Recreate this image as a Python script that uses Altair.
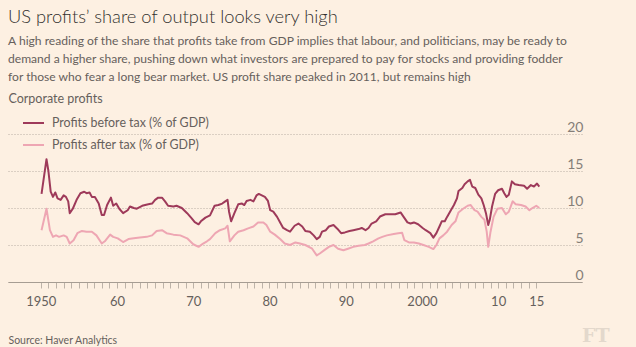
import altair as alt
import pandas as pd

# ---- data (year, % of GDP) ----
before_years = [1950.1, 1950.75, 1951.0, 1951.3, 1951.6, 1951.9, 1952.2, 1952.6, 1953.0, 1953.3,
                1953.6, 1953.8, 1954.2, 1954.7, 1955.2, 1955.7, 1956.0, 1956.4, 1956.7, 1957.1,
                1957.6, 1958.0, 1958.3, 1958.7, 1959.2, 1959.5, 1959.9, 1960.3, 1960.8, 1961.4,
                1961.7, 1962.2, 1962.6, 1963.3, 1963.7, 1964.1, 1964.6, 1965.0, 1965.4, 1965.9,
                1966.3, 1966.7, 1967.4, 1967.8, 1968.5, 1969.2, 1969.8, 1970.2, 1970.7, 1971.0,
                1971.6, 1972.2, 1972.8, 1973.3, 1973.8, 1974.2, 1974.5, 1974.7, 1974.97, 1975.4,
                1975.9, 1976.4, 1976.7, 1977.0, 1977.5, 1977.9, 1978.3, 1978.6, 1979.0, 1979.4,
                1979.8, 1980.1, 1980.5, 1981.0, 1981.4, 1981.8, 1982.3, 1982.7, 1983.3, 1983.8,
                1984.3, 1984.7, 1985.3, 1985.8, 1986.2, 1986.6, 1986.9, 1987.4, 1987.8, 1988.4,
                1988.9, 1989.4, 1989.9, 1990.5, 1991.0, 1991.7, 1992.1, 1992.6, 1993.0, 1993.4,
                1994.0, 1994.5, 1995.2, 1995.8, 1996.5, 1997.2, 1997.6, 1998.1, 1998.5, 1998.95,
                1999.5, 2000.1, 2000.5, 2001.1, 2001.5, 2001.9, 2002.3, 2002.6, 2003.0, 2003.3,
                2003.8, 2004.2, 2004.6, 2004.8, 2005.3, 2005.6, 2006.0, 2006.3, 2006.6, 2007.0,
                2007.4, 2007.8, 2008.1, 2008.4, 2008.7, 2008.9, 2009.2, 2009.6, 2010.0, 2010.5,
                2010.8, 2011.1, 2011.4, 2011.8, 2012.2, 2012.7, 2013.4, 2013.8, 2014.3, 2014.7,
                2015.1, 2015.4]
before_values = [11.9, 16.6, 15.0, 12.2, 11.5, 12.1, 11.3, 11.1, 11.7, 11.5,
                 10.9, 9.3, 9.9, 11.1, 12.0, 12.2, 12.0, 12.1, 11.5, 11.5,
                 10.6, 9.05, 9.05, 10.4, 11.4, 10.3, 10.6, 9.9, 9.3, 9.7,
                 10.2, 10.0, 9.9, 10.3, 10.4, 10.5, 10.6, 11.1, 11.4, 11.4,
                 10.9, 10.3, 10.2, 10.3, 10.0, 9.3, 8.6, 8.1, 7.8, 8.2,
                 8.7, 9.0, 10.3, 10.4, 10.6, 10.9, 11.1, 9.5, 8.2, 9.3,
                 10.5, 10.6, 10.4, 10.95, 11.1, 10.9, 11.7, 11.9, 11.7, 11.5,
                 10.95, 9.7, 9.5, 8.8, 8.05, 7.3, 7.0, 6.8, 7.6, 7.9,
                 7.5, 6.9, 6.8, 6.3, 5.8, 6.1, 6.8, 7.0, 7.5, 7.7,
                 7.2, 6.6, 6.7, 6.9, 7.0, 7.15, 7.3, 7.0, 7.3, 7.9,
                 8.2, 8.85, 9.15, 9.15, 9.15, 9.4, 8.8, 8.05, 7.9, 8.05,
                 7.8, 7.3, 7.0, 6.6, 6.0, 6.6, 7.5, 8.2, 8.2, 8.8,
                 9.7, 10.4, 11.3, 12.3, 12.7, 13.2, 13.6, 13.8, 12.9, 12.7,
                 11.8, 11.3, 10.4, 9.3, 7.7, 8.4, 10.2, 11.9, 12.4, 12.6,
                 12.0, 11.5, 11.8, 13.6, 13.2, 13.1, 13.0, 12.6, 13.1, 12.9,
                 13.3, 12.9]

after_years = [1950.1, 1950.75, 1951.2, 1951.6, 1952.0, 1952.4, 1953.0, 1953.4, 1953.8, 1954.3,
               1954.8, 1955.4, 1956.0, 1956.7, 1957.3, 1958.0, 1958.4, 1959.1, 1959.5, 1960.1,
               1960.8, 1961.5, 1962.2, 1963.0, 1963.9, 1964.6, 1965.2, 1965.9, 1966.5, 1967.4,
               1968.3, 1969.2, 1970.0, 1970.7, 1971.3, 1971.8, 1972.2, 1972.9, 1973.5, 1974.2,
               1974.5, 1974.8, 1975.4, 1975.9, 1976.6, 1977.2, 1977.9, 1978.5, 1979.2, 1979.6,
               1980.1, 1980.7, 1981.4, 1982.0, 1982.7, 1983.4, 1984.0, 1984.7, 1985.6, 1986.2,
               1986.6, 1987.2, 1987.8, 1988.4, 1989.0, 1989.7, 1990.3, 1991.0, 1991.7, 1992.5,
               1993.0, 1993.6, 1994.3, 1994.8, 1995.4, 1996.3, 1996.9, 1997.4, 1997.7, 1998.3,
               1998.95, 1999.6, 2000.2, 2000.9, 2001.5, 2001.9, 2002.3, 2002.8, 2003.3, 2003.9,
               2004.4, 2004.8, 2005.4, 2006.0, 2006.4, 2006.9, 2007.3, 2007.8, 2008.2, 2008.5,
               2008.7, 2009.0, 2009.4, 2009.9, 2010.5, 2011.0, 2011.4, 2011.9, 2012.3, 2013.0,
               2013.6, 2014.1, 2014.5, 2015.0, 2015.4]
after_values = [7.0, 9.9, 7.0, 6.1, 6.3, 6.1, 6.3, 6.1, 5.2, 5.65,
                6.6, 6.9, 6.8, 6.8, 6.3, 5.2, 5.5, 6.4, 6.1, 5.9,
                5.4, 5.8, 5.9, 6.0, 6.1, 6.3, 6.9, 7.0, 6.6, 6.4,
                6.3, 5.9, 5.1, 4.75, 5.2, 5.5, 5.8, 6.6, 7.0, 7.25,
                7.6, 5.5, 6.3, 6.8, 7.0, 7.25, 7.5, 8.05, 8.05, 7.7,
                6.8, 6.4, 5.8, 5.2, 5.0, 5.35, 5.2, 5.0, 4.5, 3.6,
                3.85, 4.3, 4.75, 5.0, 4.5, 4.3, 4.5, 4.75, 4.9, 5.0,
                5.2, 5.5, 5.9, 6.1, 6.3, 6.5, 6.6, 6.65, 5.65, 5.35,
                5.35, 5.2, 5.0, 4.75, 4.45, 5.0, 5.9, 6.3, 6.8, 7.7,
                8.2, 9.4, 9.9, 10.3, 10.4, 9.7, 9.5, 8.8, 8.4, 6.8,
                4.75, 6.8, 8.8, 9.9, 10.0, 9.15, 9.5, 10.9, 10.5, 10.4,
                10.2, 9.7, 10.0, 10.3, 10.0]

series_names = ["Profits before tax (% of GDP)", "Profits after tax (% of GDP)"]
series_colors = ["#9e3a5a", "#eea6b3"]
year_ticks = list(range(1950, 2016))
label_years = [1950, 1960, 1970, 1980, 1990, 2000, 2010, 2015]
y_ticks = [0, 5, 10, 15, 20]

title_text = "US profits\u2019 share of output looks very high"
subtitle_lines = [
    "A high reading of the share that profits take from GDP implies that labour, and politicians, may be ready to",
    "demand a higher share, pushing down what investors are prepared to pay for stocks and providing fodder",
    "for those who fear a long bear market. US profit share peaked in 2011, but remains high",
]
y_title = "Corporate profits"
source_text = "Source: Haver Analytics"
logo_text = ["FT"]

FONT = "Lato"
BG = "#fdf0e2"
GREY = "#66605c"

df = pd.concat([
    pd.DataFrame({"year": after_years, "value": after_values, "series": series_names[1], "ord": 0}),
    pd.DataFrame({"year": before_years, "value": before_values, "series": series_names[0], "ord": 1}),
])

label_list = ",".join(str(v) for v in label_years)
label_expr = (
    f"indexof([{label_list}], datum.value) >= 0 ? "
    "((datum.value == 1950 || datum.value == 2000) ? toString(datum.value) : slice(toString(datum.value), 2)) : ''"
)

lines = alt.Chart(df).mark_line(strokeWidth=2, strokeJoin="round").encode(
    x=alt.X(
        "year:Q",
        scale=alt.Scale(domain=[1945.7, 2021.0], nice=False, zero=False),
        axis=alt.Axis(
            values=year_ticks, labelExpr=label_expr, grid=False,
            tickSize=6, tickColor="#bdb3a8", tickWidth=1,
            domainColor="#a69d93", domainWidth=1,
            labelFont=FONT, labelFontSize=13, labelColor=GREY, labelPadding=7,
            labelFlush=False, labelOverlap=False,
            title=source_text, titleX=0, titleY=61, titleAlign="left", titleAnchor="start",
            titleBaseline="alphabetic", titleFont=FONT, titleFontSize=10.5,
            titleFontWeight="normal", titleColor=GREY,
        ),
    ),
    y=alt.Y(
        "value:Q",
        scale=alt.Scale(domain=[0, 20], nice=False),
        axis=alt.Axis(
            orient="right", values=y_ticks, ticks=False, domain=False,
            grid=True, gridDash=[1, 2], gridColor="#b8aea4", gridWidth=1,
            labelAlign="right", labelPadding=1, labelBaseline="alphabetic", labelOffset=-2.5,
            labelFont=FONT, labelFontSize=14, labelColor="#857e78",
            title=y_title, titleAngle=0, titleX=-574, titleY=-31.3, titleAlign="left",
            titleBaseline="alphabetic", titleFont=FONT, titleFontSize=12.5,
            titleFontWeight="normal", titleColor=GREY,
        ),
    ),
    color=alt.Color(
        "series:N",
        scale=alt.Scale(domain=series_names, range=series_colors),
        legend=alt.Legend(
            orient="none", legendX=14, legendY=-22.5, title=None, padding=0,
            symbolType="stroke", symbolSize=441, symbolStrokeWidth=2,
            labelFont=FONT, labelFontSize=12.4, labelColor=GREY, labelOffset=7,
            labelLimit=0, rowPadding=4,
        ),
    ),
    order=alt.Order("ord:Q"),
)

logo = alt.Chart(pd.DataFrame({"t": logo_text})).mark_text(
    font="DejaVu Serif", fontWeight="bold", fontSize=19, color="#e3d8cc",
    align="left", baseline="alphabetic",
).encode(text="t:N", x=alt.value(574), y=alt.value(208))

chart = alt.layer(lines, logo).properties(
    width=574, height=148,
    background=BG,
    padding={"left": 8, "top": 134, "right": 54, "bottom": 65},
    autosize=alt.AutoSizeParams(type="none"),
    title=alt.TitleParams(
        text=title_text, subtitle=subtitle_lines, anchor="start", frame="group",
        font=FONT, fontSize=18.3, fontWeight=300, color="#33302e",
        subtitleFont=FONT, subtitleFontSize=12.1, subtitleColor=GREY,
        subtitleLineHeight=18, subtitlePadding=7, offset=9,
    ),
).configure_view(stroke=None)

chart.save("out.html", embed_options={"renderer": "svg", "actions": False})
